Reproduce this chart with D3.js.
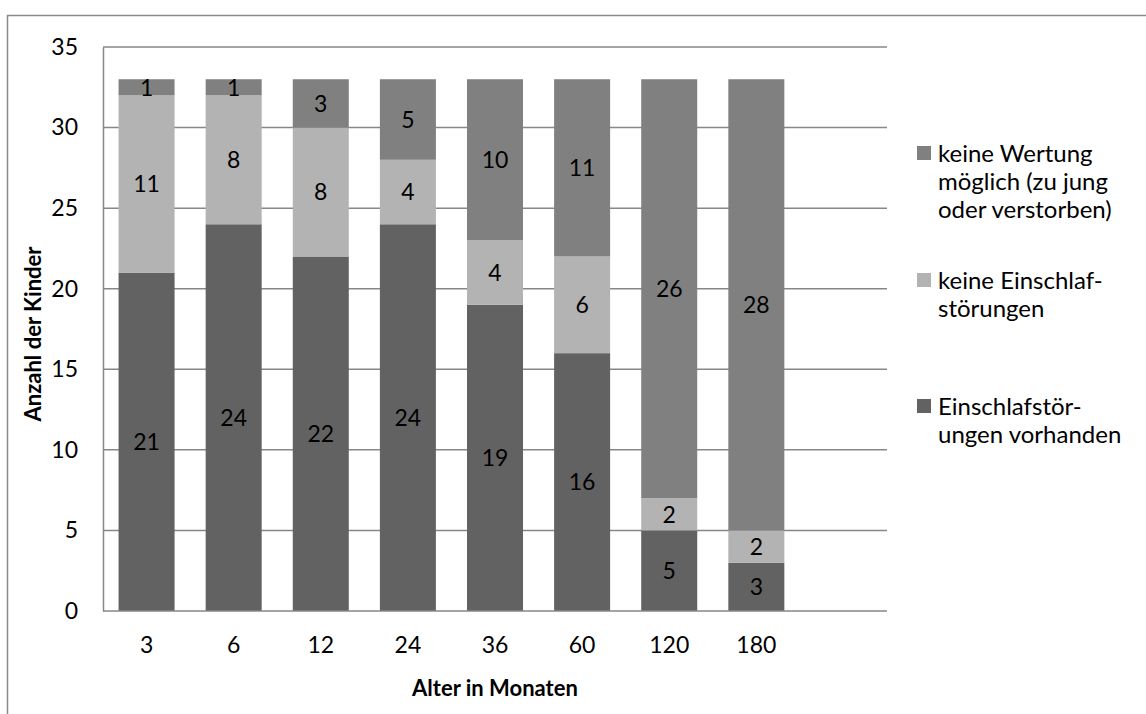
<!DOCTYPE html>
<html>
<head>
<meta charset="utf-8">
<script src="https://cdn.jsdelivr.net/npm/d3@7/dist/d3.min.js"></script>
<style>
  html, body { margin: 0; padding: 0; background: #fff; }
  svg { display: block; font-family: Lato, "Open Sans", sans-serif; }
</style>
</head>
<body>
<svg id="chart" width="1146" height="714"></svg>
<script>
// Age groups in months
const categories = ["3", "6", "12", "24", "36", "60", "120", "180"];
// Children per outcome, per age group
const mitStoerung = [21, 24, 22, 24, 19, 16, 5, 3];
const ohneStoerung = [11, 8, 8, 4, 4, 6, 2, 2];
const keineWertung = [1, 1, 3, 5, 10, 11, 26, 28];
const yTicks = [0, 5, 10, 15, 20, 25, 30, 35];

const seriesNames = ["mit", "ohne", "keine"];
const seriesColors = { mit: "#626262", ohne: "#b3b3b3", keine: "#808080" };
const legendItems = [
  { key: "keine", lines: ["keine Wertung", "möglich (zu jung", "oder verstorben)"] },
  { key: "ohne", lines: ["keine Einschlaf-", "störungen"] },
  { key: "mit", lines: ["Einschlafstör-", "ungen vorhanden"] }
];

const rows = categories.map((c, i) => ({
  cat: c, mit: mitStoerung[i], ohne: ohneStoerung[i], keine: keineWertung[i]
}));

const tickSize = 23;
const titleSize = 22;
const legendSize = 24;

const svg = d3.select("#chart");
const plot = { left: 103, right: 887, top: 47, bottom: 611 };
const slots = categories.length + 1; // one empty slot at the right end
const step = (plot.right - plot.left) / slots;

const x = d3.scaleBand()
  .domain(categories)
  .range([plot.left, plot.left + step * categories.length])
  .paddingInner(0.357)
  .paddingOuter(0.1785);

const y = d3.scaleLinear().domain([0, 35]).range([plot.bottom, plot.top]);

// outer chart frame
svg.append("rect")
  .attr("x", 7.5).attr("y", 15.5)
  .attr("width", 1200).attr("height", 800)
  .attr("fill", "none").attr("stroke", "#8a8a8a").attr("stroke-width", 1.5);

// horizontal gridlines
svg.append("g")
  .selectAll("line")
  .data(yTicks.filter(t => t > 0))
  .join("line")
  .attr("x1", plot.left).attr("x2", plot.right)
  .attr("y1", d => y(d)).attr("y2", d => y(d))
  .attr("stroke", "#878787").attr("stroke-width", 1.5);

// y axis
const yAxis = svg.append("g")
  .attr("transform", `translate(${plot.left},0)`)
  .call(d3.axisLeft(y).tickValues(yTicks).tickSize(0).tickPadding(25));
yAxis.select(".domain").attr("stroke", "#878787").attr("stroke-width", 1.5);
yAxis.selectAll("text").attr("font-size", tickSize).attr("fill", "#000")
  .attr("font-family", "Lato, sans-serif");

// stacked bars
const stack = d3.stack().keys(seriesNames)(rows);
const layers = svg.append("g").selectAll("g")
  .data(stack)
  .join("g")
  .attr("fill", d => seriesColors[d.key]);

layers.selectAll("rect")
  .data(d => d)
  .join("rect")
  .attr("x", d => x(d.data.cat))
  .attr("width", x.bandwidth())
  .attr("y", d => y(d[1]))
  .attr("height", d => y(d[0]) - y(d[1]));

// segment value labels
layers.selectAll("text")
  .data(d => d.map(s => ({ s, key: d.key })))
  .join("text")
  .attr("x", d => x(d.s.data.cat) + x.bandwidth() / 2)
  .attr("y", d => (y(d.s[0]) + y(d.s[1])) / 2)
  .attr("dy", "0.36em")
  .attr("text-anchor", "middle")
  .attr("font-size", tickSize)
  .attr("fill", "#000")
  .text(d => d.s.data[d.key]);

// x axis
const xAxis = svg.append("g")
  .attr("transform", `translate(0,${plot.bottom})`)
  .call(d3.axisBottom(x).tickSize(0).tickPadding(26));
xAxis.select(".domain").remove();
xAxis.selectAll("text").attr("font-size", tickSize).attr("fill", "#000")
  .attr("font-family", "Lato, sans-serif");
svg.append("line")
  .attr("x1", plot.left).attr("x2", plot.right)
  .attr("y1", plot.bottom).attr("y2", plot.bottom)
  .attr("stroke", "#878787").attr("stroke-width", 1.5);

// axis titles
svg.append("text")
  .attr("x", (plot.left + plot.right) / 2)
  .attr("y", 688).attr("dy", "0.36em")
  .attr("text-anchor", "middle")
  .attr("font-size", titleSize).attr("font-weight", "bold")
  .text("Alter in Monaten");

svg.append("text")
  .attr("transform", `translate(33,${(plot.top + plot.bottom) / 2 + 5}) rotate(-90)`)
  .attr("dy", "0.36em")
  .attr("text-anchor", "middle")
  .attr("font-size", titleSize).attr("font-weight", "bold")
  .text("Anzahl der Kinder");

// legend
const legendTops = [153, 280, 406];
const lineGap = 28;
const legend = svg.append("g").selectAll("g")
  .data(legendItems)
  .join("g")
  .attr("transform", (d, i) => `translate(917,${legendTops[i]})`);

legend.append("rect")
  .attr("x", 0).attr("y", -7)
  .attr("width", 14).attr("height", 14)
  .attr("fill", d => seriesColors[d.key]);

legend.append("text")
  .attr("font-size", legendSize)
  .attr("fill", "#000")
  .selectAll("tspan")
  .data(d => d.lines)
  .join("tspan")
  .attr("x", 21)
  .attr("y", (d, i) => i * lineGap)
  .attr("dy", "0.36em")
  .text(d => d);
</script>
</body>
</html>
